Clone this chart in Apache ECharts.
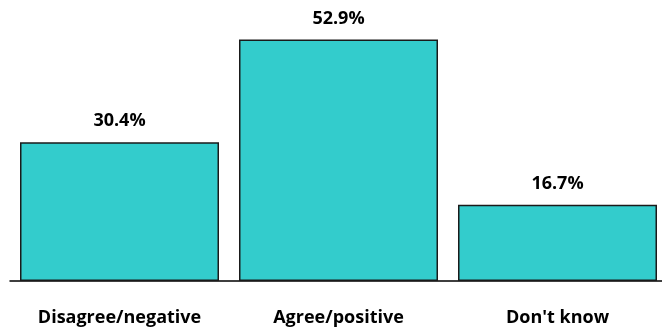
<!DOCTYPE html>
<html>
<head>
<meta charset="utf-8">
<script src="https://cdn.jsdelivr.net/npm/echarts@6/dist/echarts.min.js"></script>
<style>
  html, body { margin: 0; padding: 0; background: #fff; }
  #chart { width: 662px; height: 331px; }
</style>
</head>
<body>
<div id="chart"></div>
<script>
// Survey responses (share of respondents, %)
const categories = ['Disagree/negative', 'Agree/positive', "Don't know"];
const shares = [30.4, 52.9, 16.7];

const chart = echarts.init(document.getElementById('chart'), null, { renderer: 'canvas' });
chart.setOption({
  animation: false,
  // the plot runs a little past the right edge of the canvas
  grid: { left: 10, top: 7, bottom: 50, right: -5, outerBoundsMode: 'none', containLabel: false },
  xAxis: {
    type: 'category',
    data: categories,
    axisLine: { show: true, lineStyle: { color: '#000', width: 1.5 } },
    axisTick: { show: false },
    axisLabel: {
      margin: 28,
      color: '#000',
      fontFamily: 'Open Sans',
      fontWeight: 'bold',
      fontSize: 18
    }
  },
  yAxis: {
    type: 'value',
    min: 0,
    max: 60,
    show: false,
    splitLine: { show: false }
  },
  series: [{
    type: 'bar',
    data: shares,
    barWidth: 199,
    itemStyle: { color: '#33CCCC', borderColor: '#1a1a1a', borderWidth: 1.5 },
    label: {
      show: true,
      position: 'top',
      distance: 12,
      color: '#000',
      fontFamily: 'Open Sans',
      fontWeight: 'bold',
      fontSize: 18,
      formatter: p => p.value.toFixed(1) + '%'
    }
  }]
});
</script>
</body>
</html>
